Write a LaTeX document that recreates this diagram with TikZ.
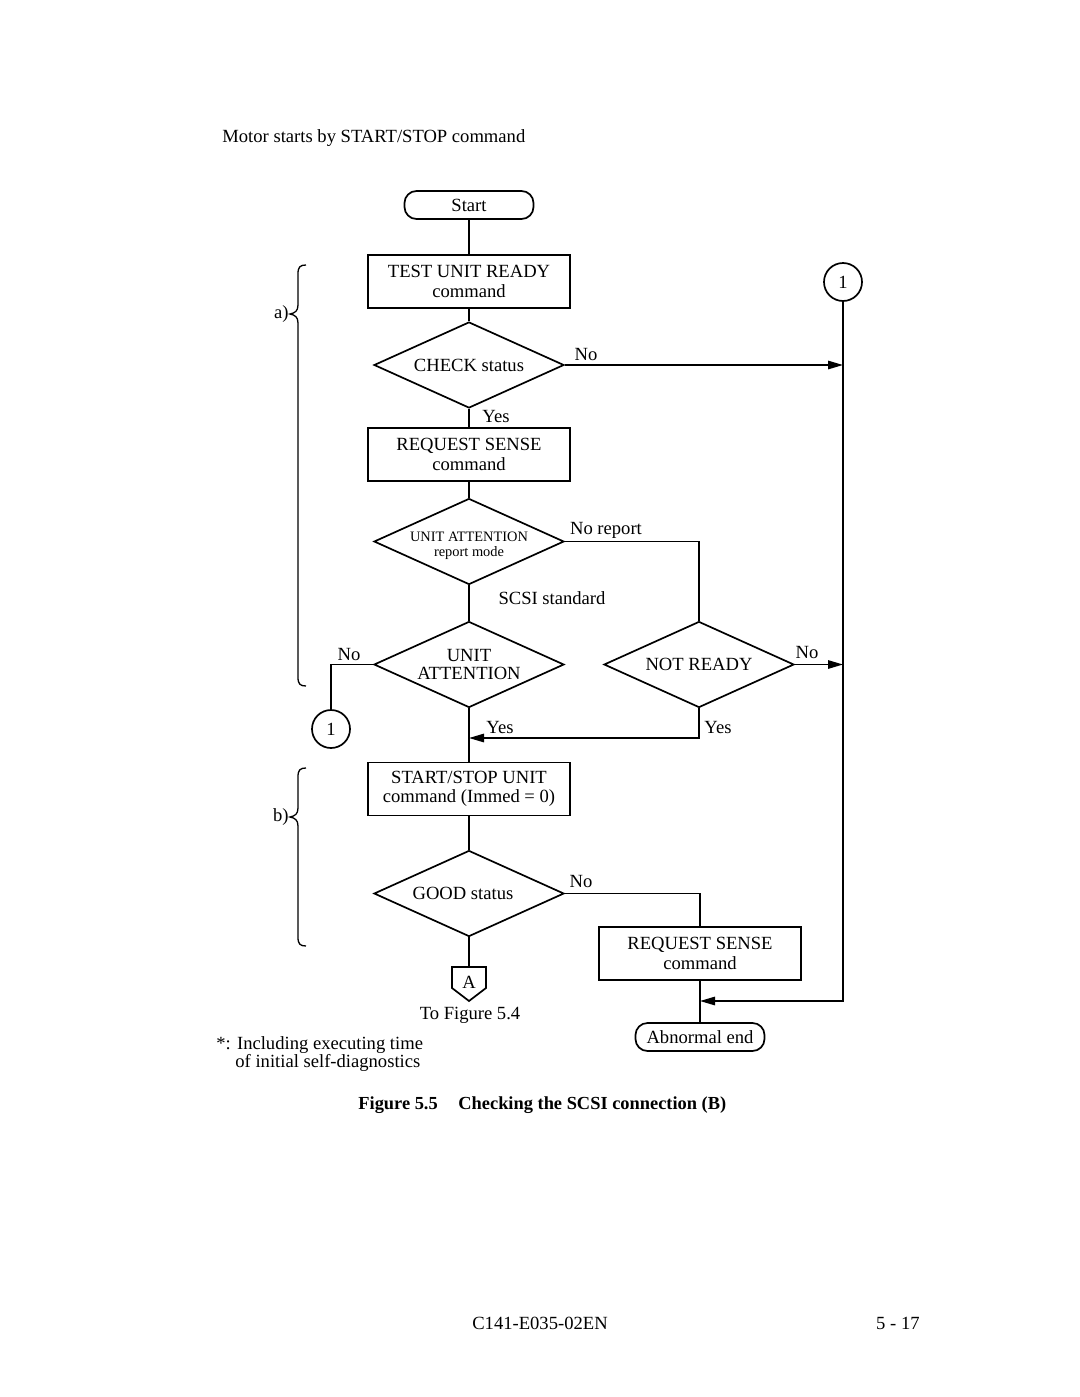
\documentclass[tikz,border=0pt]{standalone}
\usepackage{fontspec}
\setmainfont{Liberation Serif}
\usetikzlibrary{shapes.geometric,arrows.meta}
\begin{document}
\begin{tikzpicture}[x=0.5pt,y=-0.5pt,
  every node/.style={font=\fontsize{9.3}{9.6}\selectfont},
  proc/.style={draw,line width=0.85pt,minimum width=101pt,minimum height=26.5pt,align=center,inner sep=0pt},
  term/.style={draw,line width=0.85pt,rounded corners=6pt,minimum width=64.5pt,minimum height=14pt,inner sep=0pt},
  dec/.style={draw,diamond,line width=0.85pt,aspect=2.2,minimum width=95pt,minimum height=43pt,inner sep=0pt,align=center},
  conn/.style={draw,circle,line width=0.85pt,minimum size=19pt,inner sep=0pt},
  lbl/.style={inner sep=0pt},
  line/.style={line width=0.85pt},
  arr/.style={line width=0.85pt,-{Triangle[length=7.5pt,width=4.2pt]}},
  brc/.style={line width=0.65pt}
]
\useasboundingbox (0,0) rectangle (1080,1397);

% title
\node[lbl,anchor=west] (title) at (222,138) {Motor starts by START/STOP command};

% nodes
\node[term] (start) at (469,205) {Start};
\node[proc] (tur) at (469,281.5) {TEST UNIT READY\\command};
\node[dec] (chk) at (469,365) {CHECK status};
\node[proc] (rs1) at (469,454.5) {REQUEST SENSE\\command};
\node[dec] (uarm) at (469,541.5) {};
\node[lbl,align=center,font=\fontsize{7.2}{7.6}\selectfont] (uarmtxt) at (469,546) {UNIT ATTENTION\\report mode};
\node[dec,font=\fontsize{9.3}{9}\selectfont] (ua) at (469,664.5) {UNIT\\ATTENTION};
\node[dec] (nr) at (699,664.5) {NOT READY};
\node[proc] (ss) at (469,789) {START/STOP UNIT\\command (Immed = 0)};
\node[dec] (good) at (469,893.5) {GOOD status\hspace*{6pt}};
\node[proc] (rs2) at (700,953.5) {REQUEST SENSE\\command};
\node[term] (abn) at (700,1037) {Abnormal end};
\node[conn] (c1) at (843,282) {1};
\node[conn] (c2) at (331,729) {1};

% off-page connector A
\coordinate (Atop) at (469,967);
\draw[line] (452,967) -- (486,967) -- (486,988) -- (469,1001) -- (452,988) -- cycle;
\node[lbl] (A) at (469,982) {A};
\node[lbl] (tofig) at (470,1015) {To Figure 5.4};

\coordinate (m) at (469,738);
\coordinate (j) at (700,1001);

% connectors
\draw[line] (start) -- (tur);
\draw[line] (tur) -- (chk);
\draw[arr] (chk.east) -- (chk.east -| c1);
\draw[line] (chk.south) -- (rs1.north);
\draw[line] (rs1) -- (uarm);
\draw[line] (uarm.east) -| (nr.north);
\draw[line] (uarm.south) -- (ua.north);
\draw[line] (ua.west) -| (c2.north);
\draw[arr] (nr.east) -- (nr.east -| c1);
\draw[line] (ua.south) -- (ss.north);
\draw[arr] (nr.south) |- (m);
\draw[line] (ss) -- (good);
\draw[line] (good.east) -| (rs2.north);
\draw[line] (good.south) -- (Atop);
\draw[line] (rs2) -- (abn);
\draw[arr] (c1.south) |- (j);

% labels
\node[lbl] (l1) at (586,354) {No};
\node[lbl] (l2) at (496,416) {Yes};
\node[lbl] (l3) at (606,530) {No report};
\node[lbl] (l4) at (552,598) {SCSI standard};
\node[lbl] (l5) at (349,654) {No};
\node[lbl] (l6) at (807,652) {No};
\node[lbl] (l7) at (500,727) {Yes};
\node[lbl] (l8) at (718,727) {Yes};
\node[lbl] (l9) at (581,881) {No};

% braces
\draw[brc] (306,265) .. controls (300,265) and (298,267) .. (298,274) -- (298,305)
  .. controls (298,311) and (295,313) .. (290,314) .. controls (295,315) and (298,317) .. (298,323)
  -- (298,677) .. controls (298,684) and (300,686) .. (306,686);
\node[lbl,anchor=east] (ba) at (289,314) {a)};
\draw[brc] (306,768) .. controls (300,768) and (298,770) .. (298,777) -- (298,808)
  .. controls (298,814) and (295,816) .. (290,817) .. controls (295,818) and (298,820) .. (298,826)
  -- (298,937) .. controls (298,944) and (300,946) .. (306,946);
\node[lbl,anchor=east] (bb) at (289,817) {b)};

% notes
\node[lbl,anchor=west] (n1) at (216,1045) {*: Including executing time};
\node[lbl,anchor=west] (n2) at (235,1063) {of initial self-diagnostics};

% caption
\node[lbl,anchor=west,font=\fontsize{9.2}{9.5}\selectfont\bfseries] (cap1) at (358,1105) {Figure 5.5};
\node[lbl,anchor=west,font=\fontsize{9.2}{9.5}\selectfont\bfseries] (cap2) at (458,1105) {Checking the SCSI connection (B)};

% footer
\node[lbl] (foot1) at (540,1323) {C141-E035-02EN};
\node[lbl,anchor=east] (foot2) at (920,1323) {5 - 17};
\end{tikzpicture}
\end{document}
